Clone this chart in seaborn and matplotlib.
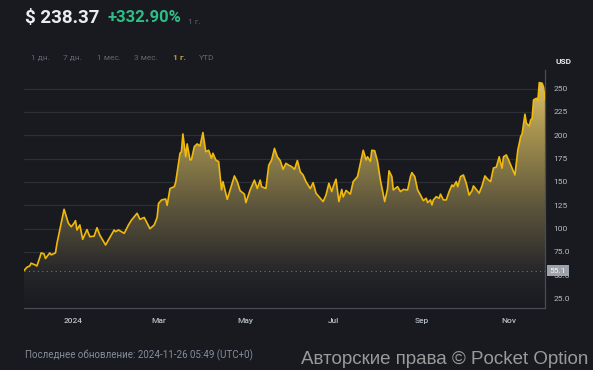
import numpy as np
import pandas as pd
import matplotlib
matplotlib.use("Agg")
import matplotlib.pyplot as plt
import matplotlib.transforms as mtrans
from matplotlib.colors import LinearSegmentedColormap
import seaborn as sns

# ---------------- data ----------------
start_date = "2023-11-28"
day = [0, 2, 4, 5, 8, 9, 11, 12, 14, 15, 18, 19, 22, 23, 25, 28, 31, 33, 35, 36,
       37, 39, 41, 44, 46, 49, 51, 53, 57, 59, 63, 64, 66, 70, 73, 75, 79, 81, 84, 88,
       91, 93, 94, 96, 99, 100, 102, 105, 106, 109, 110, 111, 113, 114, 116, 117, 119, 121, 123, 125,
       127, 129, 131, 132, 134, 136, 138, 139, 142, 144, 147, 149, 151, 154, 155, 158, 161, 163, 165, 166,
       169, 171, 173, 175, 177, 179, 181, 183, 185, 187, 189, 191, 193, 195, 197, 200, 202, 204, 207, 209,
       211, 213, 215, 216, 218, 220, 222, 223, 225, 228, 230, 233, 235, 237, 239, 240, 242, 243, 245, 247,
       249, 252, 254, 255, 257, 258, 261, 263, 265, 268, 270, 271, 273, 275, 277, 279, 281, 282, 284, 285,
       286, 288, 290, 291, 293, 295, 297, 299, 300, 302, 303, 305, 307, 309, 311, 313, 314, 316, 318, 320,
       322, 324, 326, 328, 330, 332, 334, 335, 337, 339, 341, 343, 345, 347, 348, 350, 351, 353, 354, 355,
       356, 358, 359, 360, 362, 363, 364]
price = [55.1, 58.6, 60, 63, 61, 60, 69, 74, 73, 68, 74, 72, 74, 84, 98.6, 120.8, 105.8, 102, 106, 108.6,
         98.6, 104, 88.6, 99, 91.4, 92, 101, 93, 82.5, 88, 98.6, 96.8, 98.6, 95, 104, 109, 116.5, 110, 112, 100,
         104, 112, 127, 130.7, 131.8, 125, 143, 145, 150, 180.8, 182.5, 201.5, 177, 190.8, 173.6, 174, 188, 190.8, 188.6, 203,
         182.5, 184, 175.4, 180.8, 173.6, 171.8, 141.5, 150.4, 131.4, 141.5, 156.5, 150.4, 140.7, 137, 127.9, 141.5, 152, 143, 152, 145,
         143, 168, 173.6, 186, 177, 173, 163.6, 170, 168, 166.5, 163.6, 173, 161, 157.5, 150.4, 143, 149.3, 138, 132.6, 129,
         136, 148.6, 139.7, 145, 153, 129, 142, 134, 141, 137, 150.4, 155.8, 170, 184, 173.6, 177, 172, 184, 183.5, 172,
         152, 129, 143, 162, 155.8, 141.5, 145, 139.7, 142, 141.5, 155.8, 160, 155.8, 141.5, 136, 130, 132.6, 127.9, 130.8, 125.4,
         130.8, 134.3, 132.6, 137, 130.8, 130.8, 139.7, 146.8, 145, 150.4, 145, 155.8, 157.5, 148.6, 136, 140.7, 145.8, 142, 138, 145.8,
         156.5, 152.9, 150.4, 165, 166, 177, 164.7, 177, 179, 172, 164.7, 157.5, 184, 198.6, 201.5, 222.6, 213, 210, 216.5, 218,
         238, 239.7, 237, 256.5, 255.8, 251.5, 238.37]

y_ticks = [25, 50, 75, 100, 125, 150, 175, 200, 225, 250]
y_tick_labels = ["25.0", "50.0", "75.0", "100", "125", "150", "175", "200", "225", "250"]
x_tick_dates = ["2024-01-01", "2024-03-01", "2024-05-01", "2024-07-01", "2024-09-01", "2024-11-01"]
x_tick_labels = ["2024", "Mar", "May", "Jul", "Sep", "Nov"]
range_labels = ["1 дн.", "7 дн.", "1 мес.", "3 мес.", "1 г.", "YTD"]
active_range = "1 г."
last_price_text = "$ 238.37"
change_text = "+332.90%"
period_text = "1 г."
base_price = 55.1
currency = "USD"
updated_text = "Последнее обновление: 2024-11-26 05:49 (UTC+0)"
copyright_text = "Авторские права © Pocket Option"

assert len(day) == len(price)

# ---------------- style ----------------
BG = "#181a20"
GRID = "#2b2f36"
AXIS = "#474d57"
LBL = "#b7bdc6"
DIM = "#5e6673"
LINE = "#f0b90b"

sns.set_theme(style="dark")
plt.rcParams["font.family"] = ["Roboto", "DejaVu Sans"]

df = pd.DataFrame({
    "date": pd.to_datetime(start_date) + pd.to_timedelta(day, unit="D"),
    "price": price,
})

fig = plt.figure(figsize=(5.93, 3.70), dpi=100, facecolor=BG)
ax = fig.add_axes([24 / 593, 62 / 370, 521 / 593, 238 / 370])
ax.set_facecolor(BG)

YMIN, YMAX = 15, 270

# gradient fill under the curve
poly = ax.fill_between(df["date"], df["price"], YMIN, color="none", lw=0)
ax.set_xlim(df["date"].iloc[0], df["date"].iloc[-1])
xl = ax.get_xlim()
cmap = LinearSegmentedColormap.from_list(
    "g", [(0.0, BG), (0.15, "#26262a"), (0.45, "#625a3d"), (0.75, "#a89450"), (1.0, "#e6cb6c")])
grad = np.linspace(0, 1, 256).reshape(-1, 1)
im = ax.imshow(grad, extent=[xl[0], xl[1], YMIN, YMAX], origin="lower",
               aspect="auto", cmap=cmap, zorder=1, interpolation="bilinear")
im.set_clip_path(poly.get_paths()[0], transform=ax.transData)

sns.lineplot(data=df, x="date", y="price", color=LINE, lw=1.2, ax=ax, zorder=3)

ax.set_xlim(xl)
ax.set_ylim(YMIN, YMAX)

# baseline (start price) dotted line
ax.axhline(base_price, color="#6b7280", lw=0.8, ls=(0, (1, 3)), zorder=2)

# axes styling
ax.yaxis.tick_right()
ax.set_yticks(y_ticks)
ax.set_yticklabels(y_tick_labels)
ax.set_xticks(pd.to_datetime(x_tick_dates))
ax.set_xticklabels(x_tick_labels)
ax.set_xlabel("")
ax.set_ylabel("")
ax.grid(axis="y", color=GRID, lw=0.9, zorder=0)
ax.grid(axis="x", visible=False)
ax.set_axisbelow(True)
for s in ["left", "top"]:
    ax.spines[s].set_visible(False)
for s in ["right", "bottom"]:
    ax.spines[s].set_visible(True)
    ax.spines[s].set_color(AXIS)
    ax.spines[s].set_linewidth(0.9)
ax.tick_params(axis="y", length=0, pad=6, labelsize=6, labelcolor=LBL)
ax.tick_params(axis="x", length=3, width=0.8, color=AXIS, pad=4, labelsize=6, labelcolor=LBL)
for t in ax.get_xticklabels():
    t.set_fontweight("medium")

# start price tag on the right axis
trans = mtrans.blended_transform_factory(ax.transAxes, ax.transData)
ax.text(1.0085, base_price, f"{base_price:.1f}", transform=trans, ha="left", va="center",
        fontsize=6, color="#f5f5f5", zorder=10, clip_on=False,
        bbox=dict(boxstyle="square,pad=0.32", fc="#9ea3ab", ec="none"))

fig.text(556 / 593, 1 - 62 / 370, currency, fontsize=6, fontweight="bold", color="#eaecef",
         ha="left", va="center")

# header
fig.text(25 / 593, 1 - 18 / 370, last_price_text, fontsize=13.5, fontweight="bold",
         color="#eaecef", ha="left", va="center")
fig.text(107 / 593, 1 - 18 / 370, change_text, fontsize=12, fontweight="bold",
         color="#2ebd85", ha="left", va="center")
fig.text(188 / 593, 1 - 22 / 370, period_text, fontsize=6, color=DIM, ha="left", va="center")

# range buttons
btn_x = [31, 63, 97, 134, 173, 199]
for lbl, bx in zip(range_labels, btn_x):
    active = lbl == active_range
    fig.text(bx / 593, 1 - 58 / 370, lbl, fontsize=6,
             fontweight="bold" if active else "normal",
             color="#c9a22e" if active else DIM, ha="left", va="center")

# footer
fig.text(25 / 593, 1 - 355 / 370, updated_text, fontsize=7, color="#848e9c",
         ha="left", va="center")
fig.text(588 / 593, 1 - 359 / 370, copyright_text, fontsize=13.5, color="#9a9a9a",
         ha="right", va="center", family=["Liberation Sans", "DejaVu Sans"])

fig.savefig("out.png", dpi=100, facecolor=BG)
